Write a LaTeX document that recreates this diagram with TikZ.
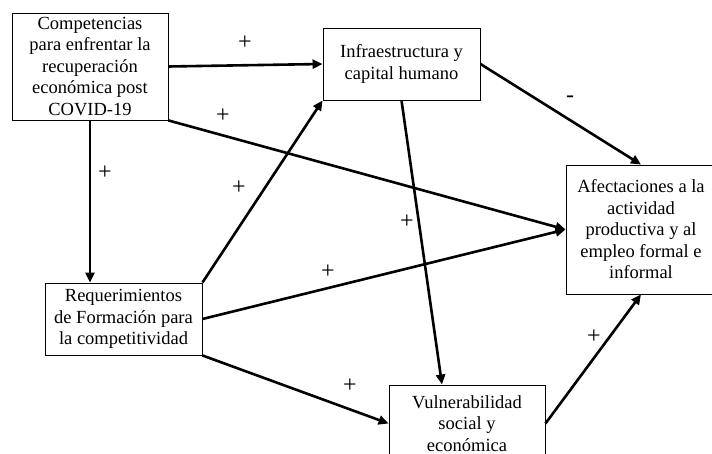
\documentclass[tikz,border=0pt]{standalone}
\usepackage{fontspec}
\setmainfont{Liberation Serif}
\usetikzlibrary{arrows.meta}

\begin{document}
\begin{tikzpicture}[x=1pt,y=-1pt]
        \tikzstyle{box}=[rectangle, draw=black, line width=0.9pt, inner sep=0pt, align=center, font=\fontsize{18.5}{21.5}\selectfont, text=black]
        \tikzstyle{edge}=[black, line width=2.6pt, -{Triangle[length=10pt,width=9pt]}]
        \tikzstyle{sign}=[inner sep=0pt, font=\fontsize{24}{24}\selectfont, text=black]

        \useasboundingbox (0,0) rectangle (712,454);

        \node[box, minimum width=156pt, minimum height=107pt] (c) at (90,66.5)    {Competencias\\ para enfrentar la\\ recuperación\\ económica post\\ COVID-19};
        \node[box, minimum width=157pt, minimum height=72pt]  (i) at (401.5,64)   {Infraestructura y\\ capital humano};
        \node[box, minimum width=150pt, minimum height=129pt] (a) at (641,229.5)  {Afectaciones a la\\ actividad\\ productiva y al\\ empleo formal e\\ informal};
        \node[box, minimum width=157pt, minimum height=72pt]  (r) at (123.5,319)  {Requerimientos\\ de Formación para\\ la competitividad};
        \node[box, minimum width=156pt, minimum height=77pt]  (v) at (467,423.5)  {Vulnerabilidad\\ social y\\ económica};

        \draw[edge] (c.east) -- (i.west);
        \draw[edge] (c.south) -- (c.south |- r.north);
        \draw[edge] (c.south east) -- (a.west);
        \draw[edge] (r.north east) -- (i.south west);
        \draw[edge] (r.east) -- (a.west);
        \draw[edge] (r.south east) -- (v.west);
        \draw[edge] (i.south) -- ([xshift=-25pt]v.north);
        \draw[edge] (i.east) -- (a.north);
        \draw[edge] (v.east) -- (a.south);

        \node[sign] (s1) at (245,43)  {+};
        \node[sign] (s2) at (105,173) {+};
        \node[sign] (s3) at (223,116) {+};
        \node[sign] (s4) at (239,188) {+};
        \node[sign] (s5) at (407,222) {+};
        \node[sign] (s6) at (328,272) {+};
        \node[sign] (s7) at (350,386) {+};
        \node[sign] (s8) at (570,99)  {-};
        \node[sign] (s9) at (594,337) {+};
    \end{tikzpicture}
\end{document}
